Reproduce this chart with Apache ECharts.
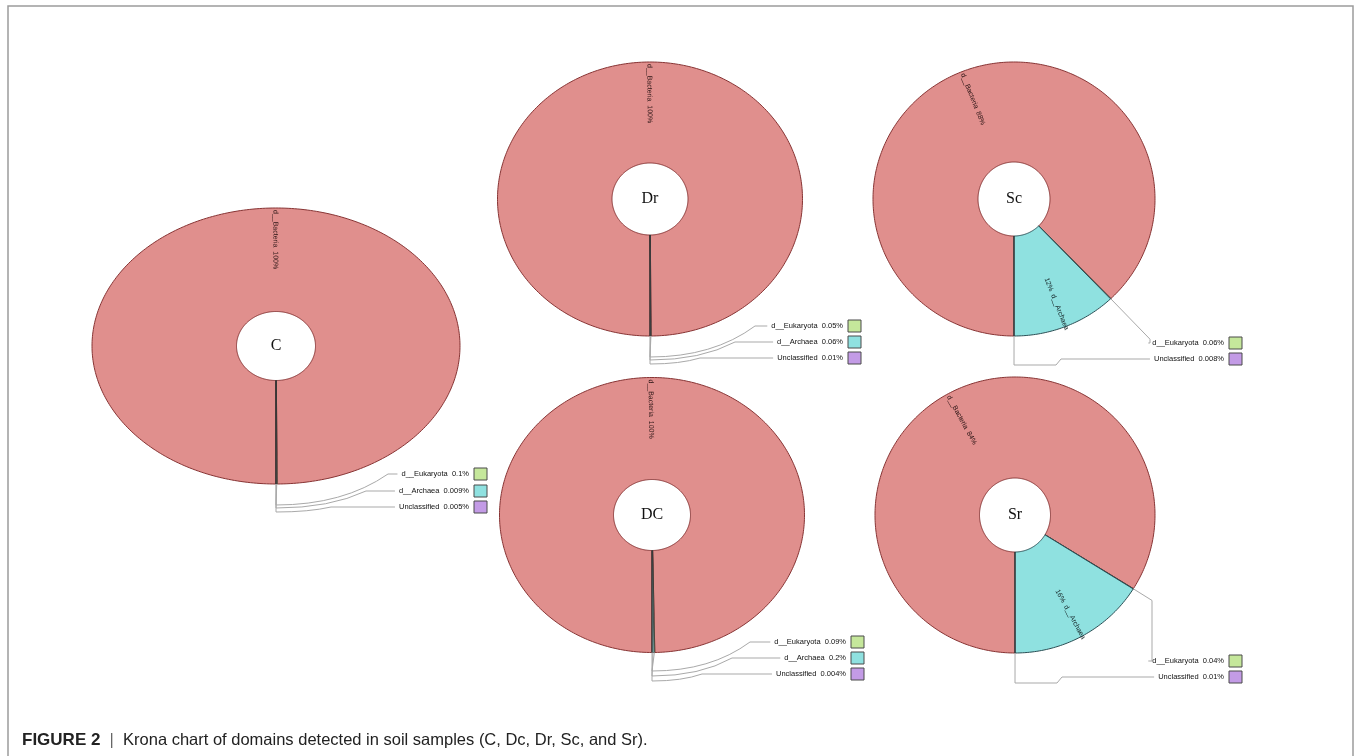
<!DOCTYPE html>
<html><head><meta charset="utf-8">
<script src="https://cdn.jsdelivr.net/npm/echarts@6/dist/echarts.min.js"></script>
<style>html,body{margin:0;padding:0;background:#fff}#main{width:1354px;height:756px}</style>
</head><body><div id="main"></div>
<script>
// ---- data ----
const samples = ['C', 'Dr', 'Sc', 'DC', 'Sr'];
const domains = ['d__Bacteria', 'd__Eukaryota', 'd__Archaea', 'Unclassified'];
const bacteria = [100, 100, 88, 100, 84];
const eukaryota = [0.1, 0.05, 0.06, 0.09, 0.04];
const archaea = [0.009, 0.06, 12, 0.2, 16];
const unclassified = [0.005, 0.01, 0.008, 0.004, 0.01];
const caption = 'Krona chart of domains detected in soil samples (C, Dc, Dr, Sc, and Sr).';

// ---- layout / styles ----
const valueBy = { d__Bacteria: bacteria, d__Eukaryota: eukaryota, d__Archaea: archaea, Unclassified: unclassified };
const colors = { d__Bacteria: '#e08f8d', d__Eukaryota: '#c5e79b', d__Archaea: '#8fe1e0', Unclassified: '#c39be6' };
const layout = {
  C:  { cx: 276, cy: 346, rx: 184, ry: 138, hx: 39.5, hy: 34.5, sq: 474, lab: {
        d__Eukaryota: { type: 'curve', y: 474, turn: 505, reach: 112 },
        d__Archaea:   { type: 'curve', y: 491, turn: 508, reach: 90 },
        Unclassified: { type: 'curve', y: 507, turn: 512, reach: 55 } } },
  Dr: { cx: 650, cy: 199, rx: 152.5, ry: 137, hx: 38, hy: 36, sq: 848, lab: {
        d__Eukaryota: { type: 'curve', y: 326, turn: 357, reach: 105 },
        d__Archaea:   { type: 'curve', y: 342, turn: 360, reach: 85 },
        Unclassified: { type: 'curve', y: 358, turn: 364, reach: 50 } } },
  Sc: { cx: 1014, cy: 199, rx: 141, ry: 137, hx: 36, hy: 37, sq: 1229, lab: {
        d__Eukaryota: { type: 'elbow', y: 343, col: 1150 },
        Unclassified: { type: 'step', y: 359, drop: 365 } } },
  DC: { cx: 652, cy: 515, rx: 152.5, ry: 137.5, hx: 38.5, hy: 35.5, sq: 851, lab: {
        d__Eukaryota: { type: 'curve', y: 642, turn: 671, reach: 98 },
        d__Archaea:   { type: 'curve', y: 658, turn: 676, reach: 80 },
        Unclassified: { type: 'curve', y: 674, turn: 681, reach: 50 } } },
  Sr: { cx: 1015, cy: 515, rx: 140, ry: 138, hx: 35.5, hy: 37, sq: 1229, lab: {
        d__Eukaryota: { type: 'elbow', y: 661, col: 1152 },
        Unclassified: { type: 'step', y: 677, drop: 683 } } }
};
const LABEL_FONT = '"Liberation Sans", Arial, sans-serif';
const mctx = document.createElement('canvas').getContext('2d');
function textW(t, size) { mctx.font = size + 'px ' + LABEL_FONT; return mctx.measureText(t).width; }
const rad = a => a * Math.PI / 180;
function pt(L, a, fx, fy) { return [L.cx + fx * Math.sin(rad(a)), L.cy - fy * Math.cos(rad(a))]; }
function ringPts(L, a0, a1) {
  const n = Math.max(1, Math.ceil((a1 - a0) / 1));
  const pts = [];
  for (let i = 0; i <= n; i++) pts.push(pt(L, a0 + (a1 - a0) * i / n, L.rx, L.ry));
  for (let i = n; i >= 0; i--) pts.push(pt(L, a0 + (a1 - a0) * i / n, L.hx, L.hy));
  return pts;
}
function txt(x, y, rotation, text, size, fill, align, family, weight) {
  return { type: 'text', x: x, y: y, rotation: rotation || 0,
    style: { text: text, fontSize: size, fontFamily: family || LABEL_FONT, fontWeight: weight || 'normal', fill: fill,
      align: align, textAlign: align, verticalAlign: 'middle', textVerticalAlign: 'middle' } };
}
const lineStyle = { stroke: '#a9a9a9', lineWidth: 1, fill: 'none' };

function makeRender(si) {
  const name = samples[si];
  const L = layout[name];
  const vals = domains.map(d => valueBy[d][si]);
  const total = vals.reduce((a, b) => a + b, 0);
  return function (params, api) {
    const j = params.dataIndex;
    const d = domains[j];
    const v = api.value(1);
    let before = 0;
    for (let k = 0; k < j; k++) before += vals[k];
    const a0 = 180 + 360 * before / total;
    const a1 = a0 + 360 * v / total;
    const mid = (a0 + a1) / 2;
    const children = [];
    const tiny = (a1 - a0) < 1.5;
    children.push({ type: 'polygon', shape: { points: ringPts(L, a0, a1) },
      style: { fill: colors[d], stroke: d === 'd__Bacteria' ? '#873434' : (tiny ? '#333' : '#2b4f55'), lineWidth: tiny ? 0.7 : 1 } });
    const pctText = v + '%';
    const lab = L.lab[d];
    if (d === 'd__Bacteria') {
      const p = pt(L, mid, L.rx - 2, L.ry - 2);
      children.push(txt(p[0], p[1], -(Math.PI / 2 + rad(mid)), d + '  ' + pctText, 7, '#2a1414', 'left'));
      children.push(txt(L.cx, L.cy, 0, name, 16, '#111', 'center', '"Liberation Serif", "Times New Roman", serif'));
    } else if (!lab) {
      const p = pt(L, mid, L.rx * 0.62, L.ry * 0.62);
      children.push(txt(p[0], p[1], Math.PI / 2 - rad(mid), pctText + '  ' + d, 7, '#142426', 'left'));
    } else {
      const label = d + '  ' + pctText;
      const size = 7.5;
      const right = L.sq - 5;
      const tx = right - textW(label, size) - 4;
      const p0 = pt(L, mid, L.rx, L.ry);
      if (lab.type === 'curve') {
        const ex = L.cx + lab.reach;
        children.push({ type: 'polyline', shape: { points: [p0, [L.cx, lab.turn]] }, style: lineStyle });
        children.push({ type: 'bezierCurve', shape: { x1: L.cx, y1: lab.turn, cpx1: L.cx + lab.reach * 0.6, cpy1: lab.turn, x2: ex, y2: lab.y }, style: lineStyle });
        children.push({ type: 'polyline', shape: { points: [[ex, lab.y], [tx, lab.y]] }, style: lineStyle });
      } else if (lab.type === 'elbow') {
        const dx = L.rx * Math.sin(rad(mid)), dy = -L.ry * Math.cos(rad(mid));
        const t = (lab.col - p0[0]) / dx;
        const p1 = [lab.col, p0[1] + t * dy];
        children.push({ type: 'polyline', shape: { points: [p0, p1, [lab.col, lab.y], [tx, lab.y]] }, style: lineStyle });
      } else {
        children.push({ type: 'polyline', shape: { points: [p0, [L.cx, lab.drop], [L.cx + 42, lab.drop], [L.cx + 47, lab.y], [tx, lab.y]] }, style: lineStyle });
      }
      children.push(txt(right, lab.y, 0, label, size, '#111', 'right'));
      children.push({ type: 'rect', shape: { x: L.sq, y: lab.y - 6, width: 13, height: 12 },
        style: { fill: colors[d], stroke: '#4a4a4a', lineWidth: 1 } });
    }
    return { type: 'group', children: children };
  };
}

const series = samples.map((name, si) => ({
  type: 'custom', name: name, coordinateSystem: 'none', silent: true, animation: false,
  data: domains.map((d, j) => [j, valueBy[d][si]]),
  renderItem: makeRender(si)
}));

const chart = echarts.init(document.getElementById('main'), null, { renderer: 'canvas' });
chart.setOption({
  backgroundColor: '#ffffff',
  animation: false,
  graphic: [
    { type: 'rect', shape: { x: 8, y: 6, width: 1345, height: 800 }, style: { fill: 'none', stroke: '#9c9c9c', lineWidth: 1.5 }, silent: true },
    { type: 'text', x: 22, y: 740, silent: true,
      style: { text: '{b|FIGURE 2}  {s||}  ' + caption, fill: '#222', fontSize: 16.5, fontFamily: '"Liberation Sans", Arial, sans-serif',
        verticalAlign: 'middle', textVerticalAlign: 'middle',
        rich: { b: { fontWeight: 'bold', fontSize: 17, fill: '#222', fontFamily: '"Liberation Sans", Arial, sans-serif' },
                s: { fill: '#666', fontSize: 16.5, fontFamily: '"Liberation Sans", Arial, sans-serif' } } } }
  ],
  series: series
});
</script>
</body></html>
